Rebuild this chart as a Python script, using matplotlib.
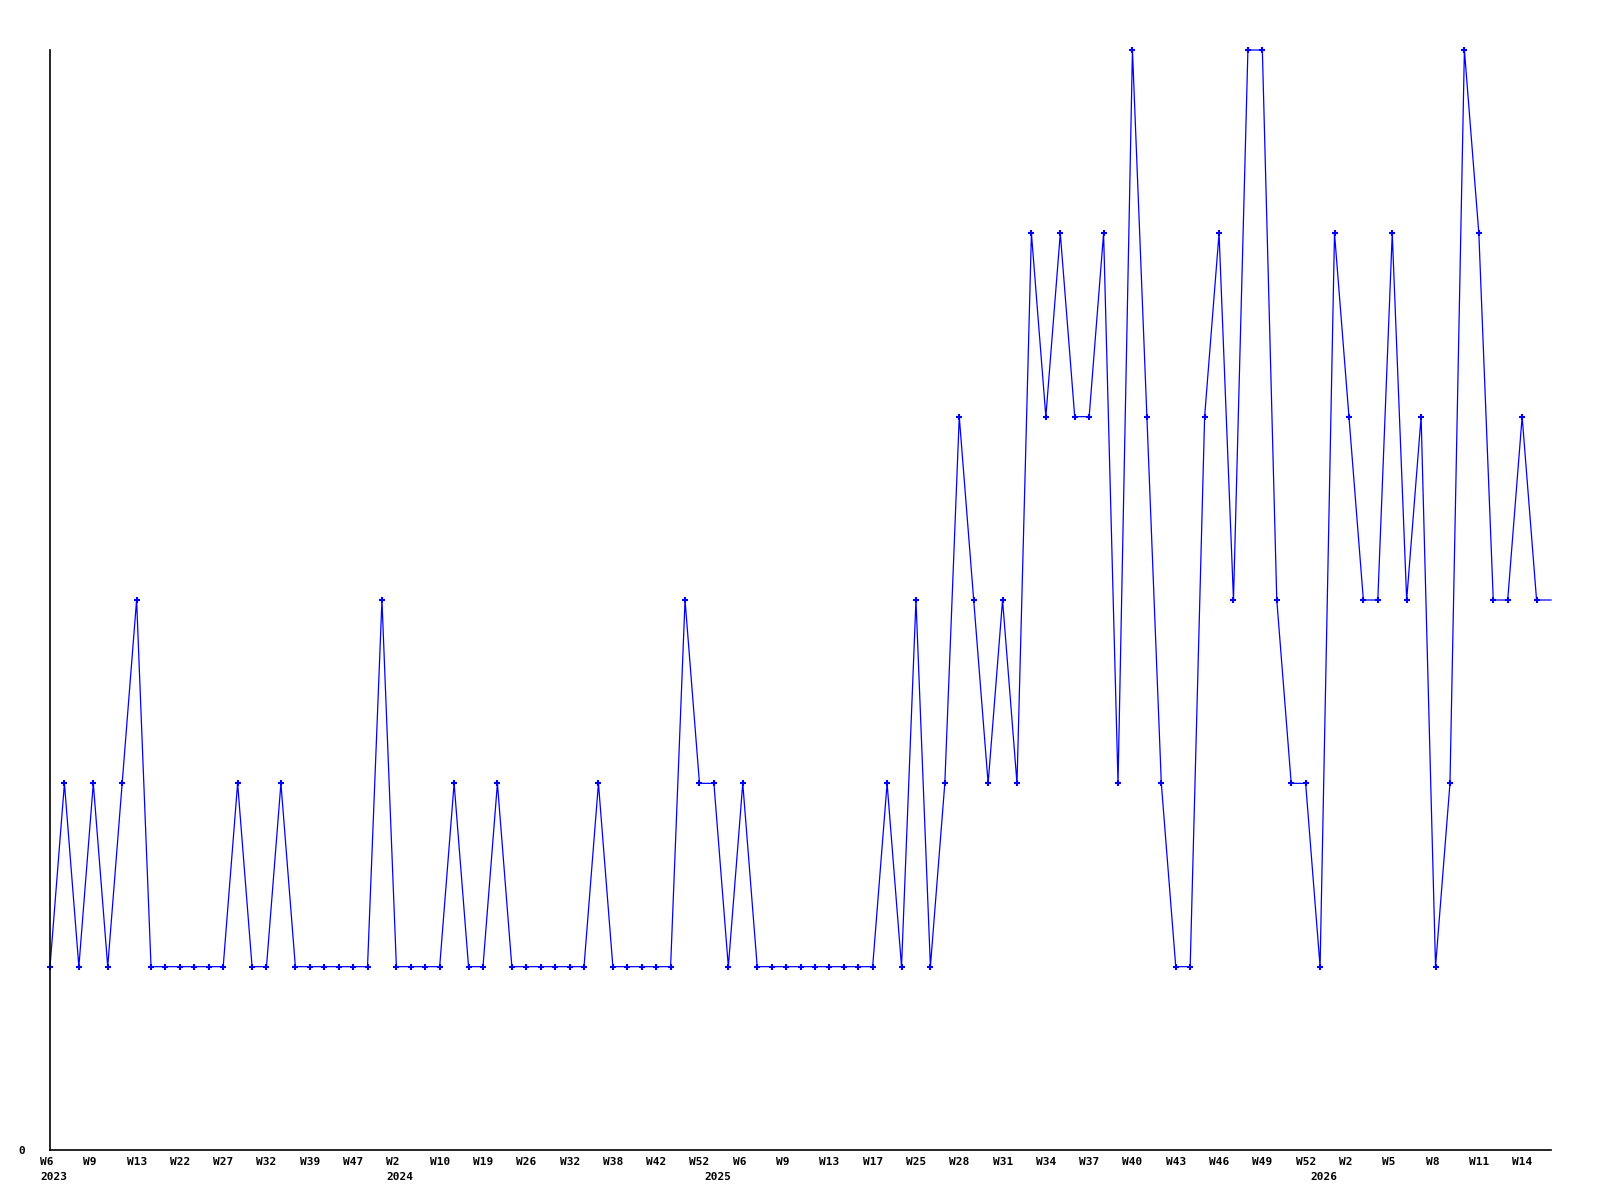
import matplotlib
matplotlib.use("Agg")
import matplotlib.pyplot as plt
from matplotlib.transforms import ScaledTranslation

# values per point (last entry is the unmarked trailing segment)
values = [1, 2, 1, 2, 1, 2, 3, 1, 1, 1, 1, 1, 1, 2, 1, 1, 2, 1, 1, 1, 1, 1, 1, 3,
          1, 1, 1, 1, 2, 1, 1, 2, 1, 1, 1, 1, 1, 1, 2, 1, 1, 1, 1, 1, 3, 2, 2, 1,
          2, 1, 1, 1, 1, 1, 1, 1, 1, 1, 2, 1, 3, 1, 2, 4, 3, 2, 3, 2, 5, 4, 5, 4,
          4, 5, 2, 6, 4, 2, 1, 1, 4, 5, 3, 6, 6, 3, 2, 2, 1, 5, 4, 3, 3, 5, 3, 4,
          1, 2, 6, 5, 3, 3, 4, 3, 3]
n_marked = 104

week_labels = ["W6", "W9", "W13", "W22", "W27", "W32", "W39", "W47", "W2", "W10",
               "W19", "W26", "W32", "W38", "W42", "W52", "W6", "W9", "W13", "W17",
               "W25", "W28", "W31", "W34", "W37", "W40", "W43", "W46", "W49", "W52",
               "W2", "W5", "W8", "W11", "W14"]
week_label_step = 3
year_labels = ["2023", "2024", "2025", "2026"]
year_positions = [0, 24, 46, 88]

fig = plt.figure(figsize=(16, 12), dpi=100)
ax = fig.add_axes([50/1600, 50/1200, 1501/1600, 1100/1200])

x = list(range(len(values)))
ax.plot(x, values, color="#0000ff", lw=0.9, marker="+", ms=4.5, mew=1.5,
        markevery=list(range(n_marked)), clip_on=False)

ax.set_xlim(0, len(values) - 1)
ax.set_ylim(0, 6)

for s in ["top", "right"]:
    ax.spines[s].set_visible(False)
for s in ["left", "bottom"]:
    ax.spines[s].set_color("black")
    ax.spines[s].set_linewidth(1.2)

font = dict(family="DejaVu Sans Mono", weight="bold", size=8)

ax.set_yticks([0])
ax.set_yticklabels(["0"], **font)
ax.tick_params(axis="y", length=0, pad=18)

ticks = list(range(0, len(week_labels) * week_label_step, week_label_step))
ax.set_xticks(ticks)
ax.set_xticklabels(week_labels, ha="left", **font)
ax.tick_params(axis="x", length=0, pad=5)
offset = ScaledTranslation(-10/100, 0, fig.dpi_scale_trans)
for lab in ax.get_xticklabels():
    lab.set_transform(lab.get_transform() + offset)

for lbl, pos in zip(year_labels, year_positions):
    ax.annotate(lbl, xy=(pos, 0), xycoords=("data", "axes fraction"),
                xytext=(-7.2, -15.5), textcoords="offset points",
                ha="left", va="top", annotation_clip=False, **font)

fig.savefig("out.png", dpi=100)
